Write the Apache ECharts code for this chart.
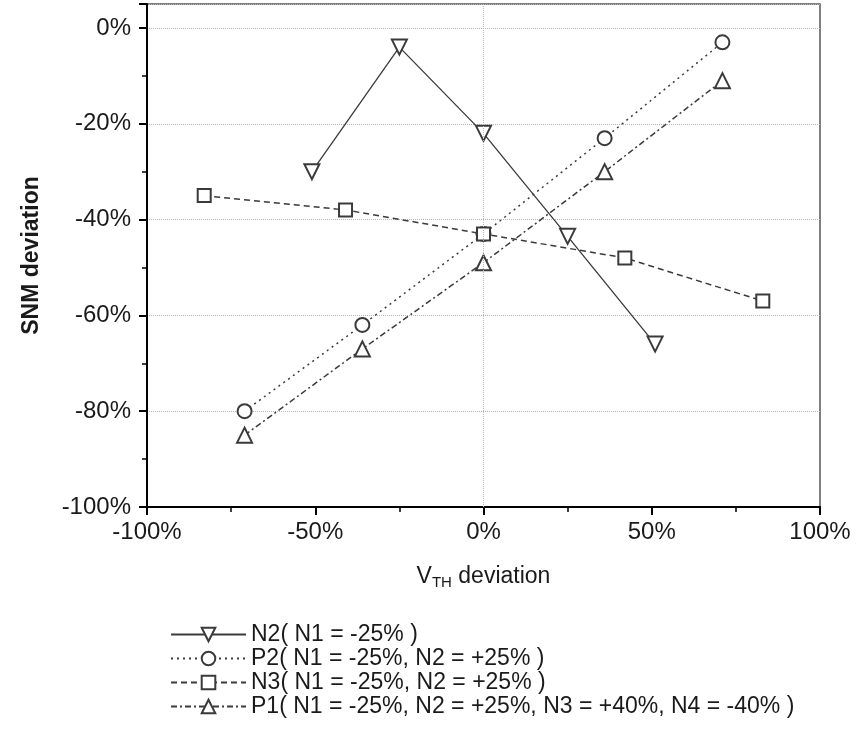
<!DOCTYPE html>
<html>
<head>
<meta charset="utf-8">
<script src="https://cdn.jsdelivr.net/npm/echarts@6/dist/echarts.min.js"></script>
<style>
html, body { margin: 0; padding: 0; background: #fff; }
#main { width: 857px; height: 740px; }
</style>
</head>
<body>
<div id="main"></div>
<script>
// values, [Vth deviation %, SNM deviation %]
var n2Data = [[-51, -30], [-25, -4], [0, -22], [25, -43.5], [51, -66]];
var p2Data = [[-71, -80], [-36, -62], [0, -43], [36, -23], [71, -3]];
var n3Data = [[-83, -35], [-41, -38], [0, -43], [42, -48], [83, -57]];
var p1Data = [[-71, -85], [-36, -67], [0, -49], [36, -30], [71, -11]];

var seriesNames = [
    'N2( N1 = -25% )',
    'P2( N1 = -25%, N2 = +25% )',
    'N3( N1 = -25%, N2 = +25% )',
    'P1( N1 = -25%, N2 = +25%, N3 = +40%, N4 = -40% )'
];

var lineColor = '#3a3a3a';
var fontName = 'Liberation Sans, Arial, sans-serif';

var chart = echarts.init(document.getElementById('main'));

function pct(v) { return v + '%'; }

var option = {
    backgroundColor: '#fff',
    animation: false,
    textStyle: { fontFamily: fontName },
    grid: {
        left: 147, top: 4, right: 37, bottom: 233,
        show: true, borderColor: '#555', borderWidth: 1.5
    },
    legend: {
        orient: 'vertical',
        left: 165,
        top: 618,
        itemWidth: 75,
        itemHeight: 17,
        itemGap: 1,
        data: seriesNames,
        textStyle: { fontSize: 23, color: '#1a1a1a', fontFamily: fontName },
        itemStyle: { borderWidth: 1.5 }
    },
    xAxis: {
        type: 'value',
        min: -100, max: 100, interval: 50,
        name: '{v|V}{s|TH}{d| deviation}',
        nameLocation: 'middle',
        nameGap: 56,
        nameTextStyle: {
            rich: {
                v: { fontSize: 23, color: '#1a1a1a', fontFamily: fontName },
                s: { fontSize: 15, color: '#1a1a1a', padding: [12, 0, 0, 0], fontFamily: fontName },
                d: { fontSize: 23, color: '#1a1a1a', fontFamily: fontName }
            }
        },
        axisLine: { show: true, onZero: false, lineStyle: { color: '#000', width: 2 } },
        axisTick: { show: true, length: 8, lineStyle: { color: '#000', width: 2 } },
        minorTick: { show: true, splitNumber: 2, length: 5, lineStyle: { color: '#000', width: 1.5 } },
        axisLabel: { formatter: pct, fontSize: 24, color: '#1a1a1a', margin: 13 },
        splitLine: { show: false }
    },
    yAxis: {
        type: 'value',
        min: -100, max: 5, interval: 20,
        name: 'SNM deviation',
        nameLocation: 'middle',
        nameGap: 104,
        nameTextStyle: { fontSize: 23, fontWeight: 'bold', color: '#1a1a1a' },
        axisLine: { show: true, onZero: false, lineStyle: { color: '#000', width: 2 } },
        axisTick: { show: true, length: 8, lineStyle: { color: '#000', width: 2 } },
        minorTick: { show: true, splitNumber: 2, length: 5, lineStyle: { color: '#000', width: 1.5 } },
        axisLabel: { formatter: pct, fontSize: 24, color: '#1a1a1a', margin: 16, showMaxLabel: false },
        splitLine: { show: true, lineStyle: { color: '#b5b5b5', type: 'dotted', width: 1 } }
    },
    series: [
        {
            name: seriesNames[0],
            type: 'line',
            data: n2Data,
            symbol: 'emptyTriangle',
            symbolRotate: 180,
            symbolSize: 15,
            lineStyle: { color: lineColor, width: 1.3, type: 'solid' },
            itemStyle: { color: lineColor, borderWidth: 1.5 },
            markLine: {
                silent: true,
                symbol: 'none',
                label: { show: false },
                lineStyle: { color: '#b5b5b5', type: 'dotted', width: 1 },
                data: [{ xAxis: 0 }]
            },
            z: 3
        },
        {
            name: seriesNames[1],
            type: 'line',
            data: p2Data,
            symbol: 'emptyCircle',
            symbolSize: 14,
            lineStyle: { color: lineColor, width: 1.5, type: [2, 4] },
            itemStyle: { color: lineColor, borderWidth: 1.5 },
            z: 3
        },
        {
            name: seriesNames[2],
            type: 'line',
            data: n3Data,
            symbol: 'emptyRect',
            symbolSize: 13,
            lineStyle: { color: lineColor, width: 1.5, type: [6, 4] },
            itemStyle: { color: lineColor, borderWidth: 1.5 },
            z: 4
        },
        {
            name: seriesNames[3],
            type: 'line',
            data: p1Data,
            symbol: 'emptyTriangle',
            symbolSize: 15,
            lineStyle: { color: lineColor, width: 1.5, type: [6, 3, 2, 3] },
            itemStyle: { color: lineColor, borderWidth: 1.5 },
            z: 3
        }
    ]
};

chart.setOption(option);
</script>
</body>
</html>
